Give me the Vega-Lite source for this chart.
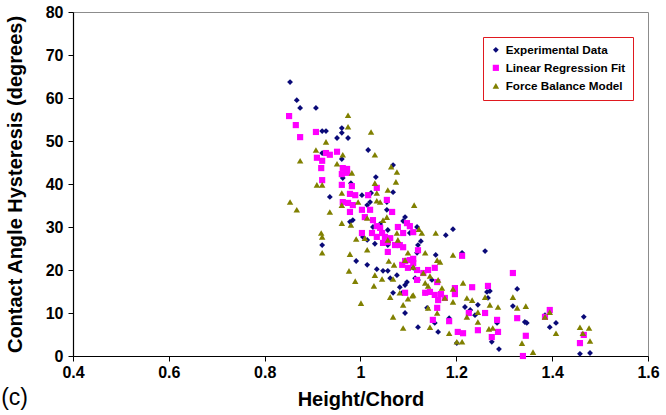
{
  "$schema": "https://vega.github.io/schema/vega-lite/v6.json",
  "width": 575,
  "height": 344,
  "autosize": {"type": "none"},
  "padding": {"left": 73, "top": 12, "right": 18, "bottom": 59},
  "config": {
    "font": "Liberation Sans",
    "view": {"stroke": "#8c8c8c", "strokeWidth": 1},
    "axis": {"grid": false, "domainColor": "#000000", "tickColor": "#000000", "domainWidth": 1.2, "tickSize": 5, "labelFont": "Liberation Sans", "labelFontWeight": "bold", "labelFontSize": 16, "labelColor": "#000000", "titleFont": "Liberation Sans", "titleFontWeight": "bold", "titleFontSize": 20, "titleColor": "#000000"}
  },
  "title": {"text": "(c)", "orient": "bottom", "anchor": "start", "frame": "bounds", "fontSize": 23, "fontWeight": "normal", "font": "Liberation Sans", "color": "#000000", "dy": -26, "dx": -4},
  "data": {"values": [
    {"series":"Experimental Data","hc":0.853,"cah":63.7},{"series":"Experimental Data","hc":0.867,"cah":59.5},{"series":"Experimental Data","hc":0.874,"cah":57.7},{"series":"Experimental Data","hc":0.907,"cah":57.7},{"series":"Experimental Data","hc":0.920,"cah":52.3},{"series":"Experimental Data","hc":0.928,"cah":52.3},{"series":"Experimental Data","hc":0.961,"cah":53.0},{"series":"Experimental Data","hc":0.961,"cah":51.9},{"series":"Experimental Data","hc":0.951,"cah":50.7},{"series":"Experimental Data","hc":0.974,"cah":50.7},
    {"series":"Experimental Data","hc":1.016,"cah":47.9},{"series":"Experimental Data","hc":0.920,"cah":47.2},{"series":"Experimental Data","hc":0.961,"cah":45.8},{"series":"Experimental Data","hc":1.032,"cah":41.6},{"series":"Experimental Data","hc":0.980,"cah":40.2},{"series":"Experimental Data","hc":0.936,"cah":37.0},{"series":"Experimental Data","hc":1.022,"cah":37.9},{"series":"Experimental Data","hc":1.003,"cah":37.4},{"series":"Experimental Data","hc":1.068,"cah":44.4},{"series":"Experimental Data","hc":1.068,"cah":38.1},
    {"series":"Experimental Data","hc":1.055,"cah":35.8},{"series":"Experimental Data","hc":1.093,"cah":32.3},{"series":"Experimental Data","hc":1.020,"cah":35.8},{"series":"Experimental Data","hc":1.014,"cah":35.1},{"series":"Experimental Data","hc":0.963,"cah":41.4},{"series":"Experimental Data","hc":1.089,"cah":31.4},{"series":"Experimental Data","hc":1.099,"cah":30.7},{"series":"Experimental Data","hc":1.055,"cah":34.0},{"series":"Experimental Data","hc":0.984,"cah":31.6},{"series":"Experimental Data","hc":0.978,"cah":31.2},
    {"series":"Experimental Data","hc":1.026,"cah":30.0},{"series":"Experimental Data","hc":1.057,"cah":29.3},{"series":"Experimental Data","hc":1.103,"cah":28.6},{"series":"Experimental Data","hc":1.005,"cah":27.7},{"series":"Experimental Data","hc":1.030,"cah":26.1},{"series":"Experimental Data","hc":1.057,"cah":25.8},{"series":"Experimental Data","hc":1.120,"cah":25.8},{"series":"Experimental Data","hc":0.991,"cah":22.1},{"series":"Experimental Data","hc":1.014,"cah":21.2},{"series":"Experimental Data","hc":1.034,"cah":20.2},
    {"series":"Experimental Data","hc":1.047,"cah":19.8},{"series":"Experimental Data","hc":1.057,"cah":19.8},{"series":"Experimental Data","hc":1.076,"cah":18.8},{"series":"Experimental Data","hc":1.062,"cah":18.1},{"series":"Experimental Data","hc":1.097,"cah":17.2},{"series":"Experimental Data","hc":1.082,"cah":16.0},{"series":"Experimental Data","hc":1.068,"cah":14.7},{"series":"Experimental Data","hc":1.087,"cah":14.7},{"series":"Experimental Data","hc":1.120,"cah":17.7},{"series":"Experimental Data","hc":1.093,"cah":10.0},
    {"series":"Experimental Data","hc":1.120,"cah":6.7},{"series":"Experimental Data","hc":0.920,"cah":25.8},{"series":"Experimental Data","hc":1.014,"cah":27.0},{"series":"Experimental Data","hc":1.051,"cah":26.3},{"series":"Experimental Data","hc":1.041,"cah":30.7},{"series":"Experimental Data","hc":1.118,"cah":30.0},{"series":"Experimental Data","hc":1.193,"cah":29.5},{"series":"Experimental Data","hc":1.178,"cah":28.1},{"series":"Experimental Data","hc":1.126,"cah":26.7},{"series":"Experimental Data","hc":1.118,"cah":24.0},
    {"series":"Experimental Data","hc":1.212,"cah":24.0},{"series":"Experimental Data","hc":1.260,"cah":24.4},{"series":"Experimental Data","hc":1.110,"cah":20.5},{"series":"Experimental Data","hc":1.114,"cah":18.1},{"series":"Experimental Data","hc":1.149,"cah":17.7},{"series":"Experimental Data","hc":1.135,"cah":14.7},{"series":"Experimental Data","hc":1.139,"cah":11.2},{"series":"Experimental Data","hc":1.155,"cah":7.7},{"series":"Experimental Data","hc":1.162,"cah":5.6},{"series":"Experimental Data","hc":1.185,"cah":8.8},
    {"series":"Experimental Data","hc":1.218,"cah":11.4},{"series":"Experimental Data","hc":1.229,"cah":10.7},{"series":"Experimental Data","hc":1.245,"cah":11.9},{"series":"Experimental Data","hc":1.239,"cah":9.5},{"series":"Experimental Data","hc":1.264,"cah":14.9},{"series":"Experimental Data","hc":1.266,"cah":13.5},{"series":"Experimental Data","hc":1.201,"cah":3.0},{"series":"Experimental Data","hc":1.274,"cah":3.3},{"series":"Experimental Data","hc":1.157,"cah":23.5},{"series":"Experimental Data","hc":1.093,"cah":16.5},
    {"series":"Experimental Data","hc":1.289,"cah":1.6},{"series":"Experimental Data","hc":1.327,"cah":15.6},{"series":"Experimental Data","hc":1.343,"cah":7.9},{"series":"Experimental Data","hc":1.347,"cah":7.7},{"series":"Experimental Data","hc":1.318,"cah":11.6},{"series":"Experimental Data","hc":1.270,"cah":15.1},{"series":"Experimental Data","hc":1.285,"cah":7.7},{"series":"Experimental Data","hc":1.385,"cah":9.5},{"series":"Experimental Data","hc":1.395,"cah":6.7},{"series":"Experimental Data","hc":1.408,"cah":7.7},
    {"series":"Experimental Data","hc":1.466,"cah":9.1},{"series":"Experimental Data","hc":1.458,"cah":0.5},{"series":"Experimental Data","hc":1.479,"cah":0.7},
    {"series":"Linear Regression Fit","hc":0.851,"cah":55.8},{"series":"Linear Regression Fit","hc":0.865,"cah":53.7},{"series":"Linear Regression Fit","hc":0.874,"cah":50.9},{"series":"Linear Regression Fit","hc":0.907,"cah":52.1},{"series":"Linear Regression Fit","hc":0.928,"cah":47.2},{"series":"Linear Regression Fit","hc":0.936,"cah":46.8},{"series":"Linear Regression Fit","hc":0.951,"cah":47.5},{"series":"Linear Regression Fit","hc":0.909,"cah":46.1},{"series":"Linear Regression Fit","hc":0.920,"cah":45.4},{"series":"Linear Regression Fit","hc":0.918,"cah":43.7},
    {"series":"Linear Regression Fit","hc":0.920,"cah":40.9},{"series":"Linear Regression Fit","hc":0.961,"cah":42.3},{"series":"Linear Regression Fit","hc":0.972,"cah":43.5},{"series":"Linear Regression Fit","hc":0.961,"cah":39.8},{"series":"Linear Regression Fit","hc":0.982,"cah":39.5},{"series":"Linear Regression Fit","hc":0.978,"cah":37.7},{"series":"Linear Regression Fit","hc":1.016,"cah":37.4},{"series":"Linear Regression Fit","hc":1.034,"cah":39.1},{"series":"Linear Regression Fit","hc":0.963,"cah":43.7},{"series":"Linear Regression Fit","hc":0.972,"cah":42.6},
    {"series":"Linear Regression Fit","hc":0.989,"cah":37.4},{"series":"Linear Regression Fit","hc":0.974,"cah":35.6},{"series":"Linear Regression Fit","hc":0.984,"cah":35.1},{"series":"Linear Regression Fit","hc":0.963,"cah":35.8},{"series":"Linear Regression Fit","hc":1.055,"cah":36.3},{"series":"Linear Regression Fit","hc":1.066,"cah":33.5},{"series":"Linear Regression Fit","hc":1.003,"cah":34.0},{"series":"Linear Regression Fit","hc":1.020,"cah":34.0},{"series":"Linear Regression Fit","hc":1.009,"cah":32.3},{"series":"Linear Regression Fit","hc":1.026,"cah":31.6},
    {"series":"Linear Regression Fit","hc":1.034,"cah":30.2},{"series":"Linear Regression Fit","hc":1.041,"cah":29.8},{"series":"Linear Regression Fit","hc":1.003,"cah":28.6},{"series":"Linear Regression Fit","hc":1.024,"cah":28.6},{"series":"Linear Regression Fit","hc":1.045,"cah":28.6},{"series":"Linear Regression Fit","hc":1.078,"cah":30.0},{"series":"Linear Regression Fit","hc":1.089,"cah":28.6},{"series":"Linear Regression Fit","hc":1.062,"cah":27.4},{"series":"Linear Regression Fit","hc":1.047,"cah":26.3},{"series":"Linear Regression Fit","hc":1.082,"cah":25.8},
    {"series":"Linear Regression Fit","hc":1.103,"cah":30.2},{"series":"Linear Regression Fit","hc":1.110,"cah":28.8},{"series":"Linear Regression Fit","hc":0.978,"cah":33.5},{"series":"Linear Regression Fit","hc":1.057,"cah":26.5},{"series":"Linear Regression Fit","hc":1.057,"cah":24.2},{"series":"Linear Regression Fit","hc":1.072,"cah":25.8},{"series":"Linear Regression Fit","hc":1.089,"cah":25.3},{"series":"Linear Regression Fit","hc":1.087,"cah":21.2},{"series":"Linear Regression Fit","hc":1.103,"cah":22.3},{"series":"Linear Regression Fit","hc":1.099,"cah":20.5},
    {"series":"Linear Regression Fit","hc":1.093,"cah":14.7},{"series":"Linear Regression Fit","hc":1.118,"cah":17.7},{"series":"Linear Regression Fit","hc":1.034,"cah":27.7},{"series":"Linear Regression Fit","hc":1.051,"cah":27.7},{"series":"Linear Regression Fit","hc":1.097,"cah":30.9},{"series":"Linear Regression Fit","hc":1.110,"cah":21.6},{"series":"Linear Regression Fit","hc":1.118,"cah":20.0},{"series":"Linear Regression Fit","hc":1.120,"cah":24.6},{"series":"Linear Regression Fit","hc":1.212,"cah":23.3},{"series":"Linear Regression Fit","hc":1.141,"cah":20.0},
    {"series":"Linear Regression Fit","hc":1.155,"cah":20.5},{"series":"Linear Regression Fit","hc":1.131,"cah":19.3},{"series":"Linear Regression Fit","hc":1.135,"cah":14.7},{"series":"Linear Regression Fit","hc":1.145,"cah":14.9},{"series":"Linear Regression Fit","hc":1.155,"cah":14.2},{"series":"Linear Regression Fit","hc":1.160,"cah":17.2},{"series":"Linear Regression Fit","hc":1.162,"cah":13.0},{"series":"Linear Regression Fit","hc":1.176,"cah":13.5},{"series":"Linear Regression Fit","hc":1.160,"cah":11.2},{"series":"Linear Regression Fit","hc":1.197,"cah":15.8},
    {"series":"Linear Regression Fit","hc":1.197,"cah":14.4},{"series":"Linear Regression Fit","hc":1.233,"cah":16.0},{"series":"Linear Regression Fit","hc":1.266,"cah":16.3},{"series":"Linear Regression Fit","hc":1.260,"cah":10.0},{"series":"Linear Regression Fit","hc":1.274,"cah":4.4},{"series":"Linear Regression Fit","hc":1.203,"cah":5.6},{"series":"Linear Regression Fit","hc":1.214,"cah":5.3},{"series":"Linear Regression Fit","hc":1.245,"cah":6.0},{"series":"Linear Regression Fit","hc":1.185,"cah":8.1},{"series":"Linear Regression Fit","hc":1.151,"cah":8.4},
    {"series":"Linear Regression Fit","hc":1.110,"cah":22.6},{"series":"Linear Regression Fit","hc":1.093,"cah":22.1},{"series":"Linear Regression Fit","hc":1.318,"cah":19.3},{"series":"Linear Regression Fit","hc":1.168,"cah":14.4},{"series":"Linear Regression Fit","hc":1.285,"cah":8.4},{"series":"Linear Regression Fit","hc":1.287,"cah":5.6},{"series":"Linear Regression Fit","hc":1.327,"cah":8.8},{"series":"Linear Regression Fit","hc":1.345,"cah":4.7},{"series":"Linear Regression Fit","hc":1.339,"cah":0.0},{"series":"Linear Regression Fit","hc":1.226,"cah":10.0},
    {"series":"Linear Regression Fit","hc":1.385,"cah":9.1},{"series":"Linear Regression Fit","hc":1.395,"cah":10.7},{"series":"Linear Regression Fit","hc":1.458,"cah":3.0},{"series":"Linear Regression Fit","hc":1.466,"cah":4.9},
    {"series":"Force Balance Model","hc":0.974,"cah":56.0},{"series":"Force Balance Model","hc":0.974,"cah":53.3},{"series":"Force Balance Model","hc":1.022,"cah":52.1},{"series":"Force Balance Model","hc":0.928,"cah":49.8},{"series":"Force Balance Model","hc":0.907,"cah":47.9},{"series":"Force Balance Model","hc":0.963,"cah":46.8},{"series":"Force Balance Model","hc":0.951,"cah":44.7},{"series":"Force Balance Model","hc":0.874,"cah":45.4},{"series":"Force Balance Model","hc":0.982,"cah":42.6},{"series":"Force Balance Model","hc":0.909,"cah":39.8},
    {"series":"Force Balance Model","hc":0.920,"cah":39.8},{"series":"Force Balance Model","hc":0.961,"cah":37.9},{"series":"Force Balance Model","hc":1.030,"cah":46.8},{"series":"Force Balance Model","hc":1.064,"cah":44.0},{"series":"Force Balance Model","hc":1.076,"cah":42.8},{"series":"Force Balance Model","hc":1.074,"cah":40.5},{"series":"Force Balance Model","hc":1.034,"cah":37.9},{"series":"Force Balance Model","hc":1.034,"cah":36.1},{"series":"Force Balance Model","hc":1.057,"cah":38.6},{"series":"Force Balance Model","hc":0.853,"cah":35.8},
    {"series":"Force Balance Model","hc":0.867,"cah":34.0},{"series":"Force Balance Model","hc":0.936,"cah":33.5},{"series":"Force Balance Model","hc":1.112,"cah":35.1},{"series":"Force Balance Model","hc":0.961,"cah":35.1},{"series":"Force Balance Model","hc":0.995,"cah":35.8},{"series":"Force Balance Model","hc":1.055,"cah":32.3},{"series":"Force Balance Model","hc":0.961,"cah":30.9},{"series":"Force Balance Model","hc":0.980,"cah":30.5},{"series":"Force Balance Model","hc":0.918,"cah":28.6},{"series":"Force Balance Model","hc":0.920,"cah":27.7},
    {"series":"Force Balance Model","hc":0.920,"cah":24.0},{"series":"Force Balance Model","hc":0.991,"cah":27.2},{"series":"Force Balance Model","hc":0.978,"cah":23.7},{"series":"Force Balance Model","hc":0.976,"cah":19.8},{"series":"Force Balance Model","hc":0.989,"cah":17.4},{"series":"Force Balance Model","hc":1.014,"cah":24.7},{"series":"Force Balance Model","hc":1.030,"cah":18.8},{"series":"Force Balance Model","hc":1.028,"cah":16.3},{"series":"Force Balance Model","hc":1.045,"cah":17.9},{"series":"Force Balance Model","hc":1.059,"cah":22.1},
    {"series":"Force Balance Model","hc":1.070,"cah":21.2},{"series":"Force Balance Model","hc":1.068,"cah":17.9},{"series":"Force Balance Model","hc":1.082,"cah":14.7},{"series":"Force Balance Model","hc":1.062,"cah":13.7},{"series":"Force Balance Model","hc":1.099,"cah":13.3},{"series":"Force Balance Model","hc":1.089,"cah":11.9},{"series":"Force Balance Model","hc":1.068,"cah":9.1},{"series":"Force Balance Model","hc":1.089,"cah":6.5},{"series":"Force Balance Model","hc":1.001,"cah":12.3},{"series":"Force Balance Model","hc":1.099,"cah":24.0},
    {"series":"Force Balance Model","hc":1.108,"cah":14.0},{"series":"Force Balance Model","hc":1.030,"cah":40.2},{"series":"Force Balance Model","hc":1.041,"cah":35.8},{"series":"Force Balance Model","hc":1.014,"cah":32.1},{"series":"Force Balance Model","hc":1.047,"cah":31.6},{"series":"Force Balance Model","hc":1.076,"cah":28.6},{"series":"Force Balance Model","hc":1.009,"cah":27.4},{"series":"Force Balance Model","hc":1.057,"cah":27.0},{"series":"Force Balance Model","hc":1.078,"cah":27.0},{"series":"Force Balance Model","hc":1.122,"cah":29.5},
    {"series":"Force Balance Model","hc":1.128,"cah":28.6},{"series":"Force Balance Model","hc":1.157,"cah":28.6},{"series":"Force Balance Model","hc":1.135,"cah":24.0},{"series":"Force Balance Model","hc":1.160,"cah":22.3},{"series":"Force Balance Model","hc":1.166,"cah":21.9},{"series":"Force Balance Model","hc":1.193,"cah":23.5},{"series":"Force Balance Model","hc":1.110,"cah":20.7},{"series":"Force Balance Model","hc":1.131,"cah":19.3},{"series":"Force Balance Model","hc":1.145,"cah":18.6},{"series":"Force Balance Model","hc":1.135,"cah":17.0},
    {"series":"Force Balance Model","hc":1.141,"cah":16.3},{"series":"Force Balance Model","hc":1.162,"cah":17.7},{"series":"Force Balance Model","hc":1.170,"cah":15.8},{"series":"Force Balance Model","hc":1.176,"cah":13.5},{"series":"Force Balance Model","hc":1.193,"cah":12.6},{"series":"Force Balance Model","hc":1.214,"cah":17.0},{"series":"Force Balance Model","hc":1.193,"cah":15.6},{"series":"Force Balance Model","hc":1.222,"cah":13.5},{"series":"Force Balance Model","hc":1.233,"cah":13.0},{"series":"Force Balance Model","hc":1.260,"cah":13.7},
    {"series":"Force Balance Model","hc":1.270,"cah":11.9},{"series":"Force Balance Model","hc":1.110,"cah":14.2},{"series":"Force Balance Model","hc":1.141,"cah":11.2},{"series":"Force Balance Model","hc":1.145,"cah":6.7},{"series":"Force Balance Model","hc":1.160,"cah":10.0},{"series":"Force Balance Model","hc":1.185,"cah":5.3},{"series":"Force Balance Model","hc":1.222,"cah":9.1},{"series":"Force Balance Model","hc":1.245,"cah":10.2},{"series":"Force Balance Model","hc":1.245,"cah":7.9},{"series":"Force Balance Model","hc":1.268,"cah":6.3},
    {"series":"Force Balance Model","hc":1.276,"cah":6.5},{"series":"Force Balance Model","hc":1.201,"cah":3.3},{"series":"Force Balance Model","hc":1.212,"cah":3.3},{"series":"Force Balance Model","hc":1.093,"cah":22.3},{"series":"Force Balance Model","hc":1.287,"cah":11.4},{"series":"Force Balance Model","hc":1.318,"cah":13.7},{"series":"Force Balance Model","hc":1.327,"cah":11.2},{"series":"Force Balance Model","hc":1.345,"cah":11.6},{"series":"Force Balance Model","hc":1.337,"cah":3.0},{"series":"Force Balance Model","hc":1.360,"cah":0.9},
    {"series":"Force Balance Model","hc":1.385,"cah":9.1},{"series":"Force Balance Model","hc":1.395,"cah":10.2},{"series":"Force Balance Model","hc":1.408,"cah":5.3},{"series":"Force Balance Model","hc":1.458,"cah":6.7},{"series":"Force Balance Model","hc":1.464,"cah":5.3},{"series":"Force Balance Model","hc":1.477,"cah":6.5},{"series":"Force Balance Model","hc":1.479,"cah":3.5}
  ]},
  "mark": {"type": "point", "filled": true, "opacity": 1},
  "encoding": {
    "x": {"field": "hc", "type": "quantitative", "scale": {"domain": [0.4, 1.6], "nice": false, "zero": false}, "axis": {"values": [0.4, 0.6, 0.8, 1.0, 1.2, 1.4, 1.6], "format": "~g", "title": "Height/Chord", "labelPadding": 3, "titlePadding": 9, "labelFlush": false}},
    "y": {"field": "cah", "type": "quantitative", "scale": {"domain": [0, 80], "nice": false}, "axis": {"values": [0, 10, 20, 30, 40, 50, 60, 70, 80], "title": "Contact Angle Hysteresis (degrees)", "labelPadding": 5, "titlePadding": 20}},
    "color": {"field": "series", "type": "nominal", "scale": {"domain": ["Experimental Data", "Linear Regression Fit", "Force Balance Model"], "range": ["#0a0a78", "#ff00ff", "#808000"]}, "legend": {"title": null, "orient": "none", "legendX": 410, "legendY": 25, "strokeColor": "#e0191f", "padding": 7, "rowPadding": 5, "labelFont": "Liberation Sans", "labelFontWeight": "bold", "labelFontSize": 11.7, "labelColor": "#000000", "symbolSize": 24, "labelOffset": 4, "fillColor": "#ffffff", "encode": {"legend": {"update": {"strokeWidth": {"value": 1.5}}}}}},
    "shape": {"field": "series", "type": "nominal", "scale": {"domain": ["Experimental Data", "Linear Regression Fit", "Force Balance Model"], "range": ["diamond", "square", "triangle-up"]}, "legend": {"title": null}},
    "size": {"field": "series", "type": "nominal", "scale": {"domain": ["Experimental Data", "Linear Regression Fit", "Force Balance Model"], "range": [34, 42, 40]}, "legend": null}
  }
}
